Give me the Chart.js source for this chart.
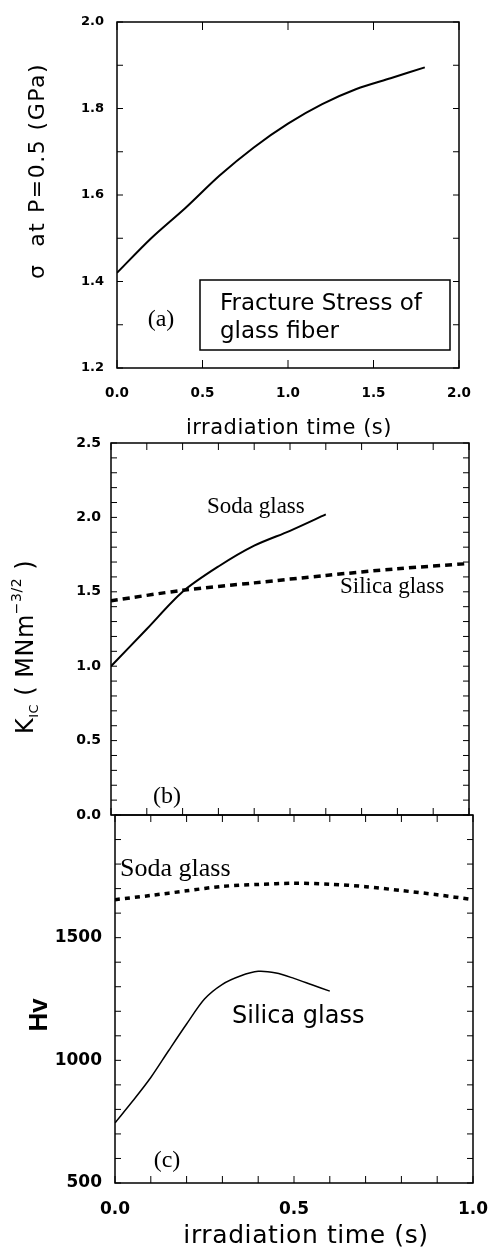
<!DOCTYPE html>
<html>
<head>
<meta charset="utf-8">
<script src="https://cdn.jsdelivr.net/npm/chart.js@4.4.1/dist/chart.umd.min.js"></script>
<style>
  html, body { margin: 0; padding: 0; background: #fff; }
  body { width: 491px; height: 1252px; position: relative; overflow: hidden; }
  canvas { position: absolute; left: 0; }
</style>
</head>
<body>
<canvas id="chartA" width="491" height="445" style="top:0px"></canvas>
<canvas id="chartB" width="491" height="440" style="top:400px"></canvas>
<canvas id="chartC" width="491" height="447" style="top:805px"></canvas>
<script>
// (a) fracture stress of glass fiber
const timeA = [0, 0.2, 0.4, 0.6, 0.8, 1.0, 1.2, 1.4, 1.6, 1.8];
const stressA = [1.42, 1.50, 1.57, 1.645, 1.71, 1.765, 1.81, 1.845, 1.87, 1.895];

// (b) K_IC
const timeSodaK = [0, 0.1, 0.2, 0.3, 0.4, 0.5, 0.6];
const kicSoda = [1.00, 1.25, 1.50, 1.67, 1.81, 1.91, 2.02];
const timeSilicaK = [0, 0.2, 0.4, 0.6, 0.8, 1.0];
const kicSilica = [1.44, 1.51, 1.56, 1.61, 1.655, 1.69];

// (c) Hv
const timeSodaH = [0, 0.1, 0.2, 0.3, 0.4, 0.5, 0.6, 0.7, 0.8, 0.9, 1.0];
const hvSoda = [1655, 1672, 1691, 1709, 1717, 1722, 1718, 1708, 1692, 1675, 1655];
const timeSilicaH = [0, 0.05, 0.1, 0.15, 0.2, 0.25, 0.3, 0.35, 0.4, 0.45, 0.5, 0.55, 0.6];
const hvSilica = [745, 835, 930, 1040, 1148, 1250, 1310, 1344, 1363, 1356, 1334, 1308, 1282];

Chart.defaults.font.family = '"DejaVu Sans"';
Chart.defaults.color = '#000';

function lineSet(xs, ys, dash, width) {
    return {
        data: xs.map((t, i) => ({ x: t, y: ys[i] })),
        borderColor: '#000',
        borderWidth: width,
        borderDash: dash || [],
        pointRadius: 0,
        tension: 0.3,
        fill: false
    };
}

// fixed axis sizes, and no extra padding asked for by the tick labels
const fitX = h => s => { s.height = h; s.paddingLeft = 0; s.paddingRight = 0; };
const fitY = w => s => { s.width = w; s.paddingTop = 0; s.paddingBottom = 0; };

// box around plot + inward ticks on all four sides
function framePlugin(xStep, xLen, yStep, yLen) {
    return {
        id: 'frame',
        afterDraw(chart) {
            const { ctx, chartArea: a, scales: { x, y } } = chart;
            ctx.save();
            ctx.strokeStyle = '#000';
            ctx.lineWidth = 1.5;
            ctx.strokeRect(a.left, a.top, a.right - a.left, a.bottom - a.top);
            ctx.lineWidth = 1;
            ctx.beginPath();
            const nx = Math.round((x.max - x.min) / xStep);
            for (let i = 0; i <= nx; i++) {
                const px = x.getPixelForValue(x.min + i * xStep);
                ctx.moveTo(px, a.bottom); ctx.lineTo(px, a.bottom - xLen);
                ctx.moveTo(px, a.top); ctx.lineTo(px, a.top + xLen);
            }
            const ny = Math.round((y.max - y.min) / yStep);
            for (let i = 0; i <= ny; i++) {
                const py = y.getPixelForValue(y.min + i * yStep);
                ctx.moveTo(a.left, py); ctx.lineTo(a.left + yLen, py);
                ctx.moveTo(a.right, py); ctx.lineTo(a.right - yLen, py);
            }
            ctx.stroke();
            ctx.restore();
        }
    };
}

// titles and labels written on the canvas (runs allow sub/superscripts)
function notesPlugin(items, boxes) {
    return {
        id: 'notes',
        afterDraw(chart) {
            const ctx = chart.ctx;
            ctx.save();
            ctx.strokeStyle = '#000';
            ctx.lineWidth = 1.5;
            (boxes || []).forEach(b => ctx.strokeRect(b.x, b.y, b.w, b.h));
            ctx.restore();
            items.forEach(item => {
                ctx.save();
                ctx.translate(item.x, item.y);
                if (item.rotate) ctx.rotate(item.rotate * Math.PI / 180);
                ctx.fillStyle = '#000';
                ctx.textBaseline = 'alphabetic';
                ctx.textAlign = 'left';
                ctx.letterSpacing = (item.spacing || 0) + 'px';
                const runs = item.runs || [{ text: item.text, font: item.font }];
                const widths = runs.map(r => { ctx.font = r.font || item.font; return ctx.measureText(r.text).width; });
                const total = widths.reduce((s, w) => s + w, 0);
                let cx = item.align === 'center' ? -total / 2 : 0;
                runs.forEach((r, i) => {
                    ctx.font = r.font || item.font;
                    ctx.fillText(r.text, cx, r.dy || 0);
                    cx += widths[i];
                });
                ctx.restore();
            });
        }
    };
}

function axis(min, max, step, size, pad, fit, opts) {
    return Object.assign({
        type: 'linear',
        min: min,
        max: max,
        grid: { display: false, drawTicks: false },
        border: { display: false },
        ticks: {
            stepSize: step,
            padding: pad,
            autoSkip: false,
            maxRotation: 0,
            font: { size: size, weight: 'bold' },
            callback: v => v.toFixed(1)
        },
        afterFit: fit
    }, opts || {});
}

const baseOptions = {
    responsive: false,
    animation: false,
    devicePixelRatio: 1,
    plugins: { legend: { display: false }, tooltip: { enabled: false } }
};

const sans = '"DejaVu Sans"';
const serif = '"Liberation Serif"';

// panel (a)
new Chart(document.getElementById('chartA'), {
    type: 'line',
    data: { datasets: [lineSet(timeA, stressA, null, 2)] },
    options: Object.assign({}, baseOptions, {
        layout: { padding: { left: 0, top: 22, right: 32, bottom: 0 } },
        scales: {
            x: axis(0, 2, 0.5, 13.5, 17, fitX(77)),
            y: axis(1.2, 2.0, 0.2, 13, 13, fitY(117))
        }
    }),
    plugins: [
        framePlugin(0.5, 8, 0.1, 6),
        notesPlugin([
            { x: 44, y: 171, rotate: -90, align: 'center', font: '22px ' + sans, spacing: 1.5, text: 'σ  at P=0.5 (GPa)' },
            { x: 289, y: 434, align: 'center', font: '21px ' + sans, spacing: 0.5, text: 'irradiation time (s)' },
            { x: 161, y: 326, align: 'center', font: '24px ' + serif, text: '(a)' },
            { x: 220, y: 310, font: '23px ' + sans, text: 'Fracture Stress of' },
            { x: 220, y: 338, font: '23px ' + sans, text: 'glass fiber' }
        ], [{ x: 200, y: 280, w: 250, h: 70 }])
    ]
});

// panel (b)
new Chart(document.getElementById('chartB'), {
    type: 'line',
    data: {
        datasets: [
            lineSet(timeSodaK, kicSoda, null, 2),
            lineSet(timeSilicaK, kicSilica, [7, 5], 3.5)
        ]
    },
    options: Object.assign({}, baseOptions, {
        layout: { padding: { left: 0, top: 43, right: 22, bottom: 0 } },
        scales: {
            x: axis(0, 1, 0.1, 13, 0, fitX(25), { ticks: { display: false } }),
            y: axis(0, 2.5, 0.5, 14, 10, fitY(111))
        }
    }),
    plugins: [
        framePlugin(0.1, 7, 0.1, 6),
        notesPlugin([
            {
                x: 33, y: 247, rotate: -90, align: 'center', spacing: 0.5, runs: [
                    { text: 'K', font: '24px ' + sans },
                    { text: 'IC', font: '13px ' + sans, dy: 5 },
                    { text: ' ( MNm', font: '24px ' + sans },
                    { text: '−3/2', font: '14px ' + sans, dy: -12 },
                    { text: ' )', font: '24px ' + sans }
                ]
            },
            { x: 207, y: 113, font: '23px ' + serif, text: 'Soda glass' },
            { x: 340, y: 193, font: '23px ' + serif, text: 'Silica glass' },
            { x: 167, y: 403, align: 'center', font: '24px ' + serif, text: '(b)' }
        ])
    ]
});

// panel (c)
new Chart(document.getElementById('chartC'), {
    type: 'line',
    data: {
        datasets: [
            lineSet(timeSodaH, hvSoda, [5, 5], 3.5),
            lineSet(timeSilicaH, hvSilica, null, 1.5)
        ]
    },
    options: Object.assign({}, baseOptions, {
        layout: { padding: { left: 0, top: 10, right: 18, bottom: 0 } },
        scales: {
            x: axis(0, 1, 0.5, 17, 16, fitX(69)),
            y: axis(500, 2000, 500, 17, 13, fitY(115), {
                ticks: {
                    stepSize: 500, padding: 13, autoSkip: false,
                    font: { size: 17, weight: 'bold' },
                    callback: v => (v === 2000 ? '' : v)
                }
            })
        }
    }),
    plugins: [
        framePlugin(0.1, 7, 100, 6),
        notesPlugin([
            { x: 47, y: 210, rotate: -90, align: 'center', font: 'bold 26px "Liberation Sans"', text: 'Hv' },
            { x: 306, y: 438, align: 'center', font: '25px ' + sans, spacing: 0.6, text: 'irradiation time (s)' },
            { x: 120, y: 71, font: '26px ' + serif, text: 'Soda glass' },
            { x: 232, y: 218, font: '24px ' + sans, text: 'Silica glass' },
            { x: 167, y: 362, align: 'center', font: '24px ' + serif, text: '(c)' }
        ])
    ]
});
</script>
</body>
</html>
